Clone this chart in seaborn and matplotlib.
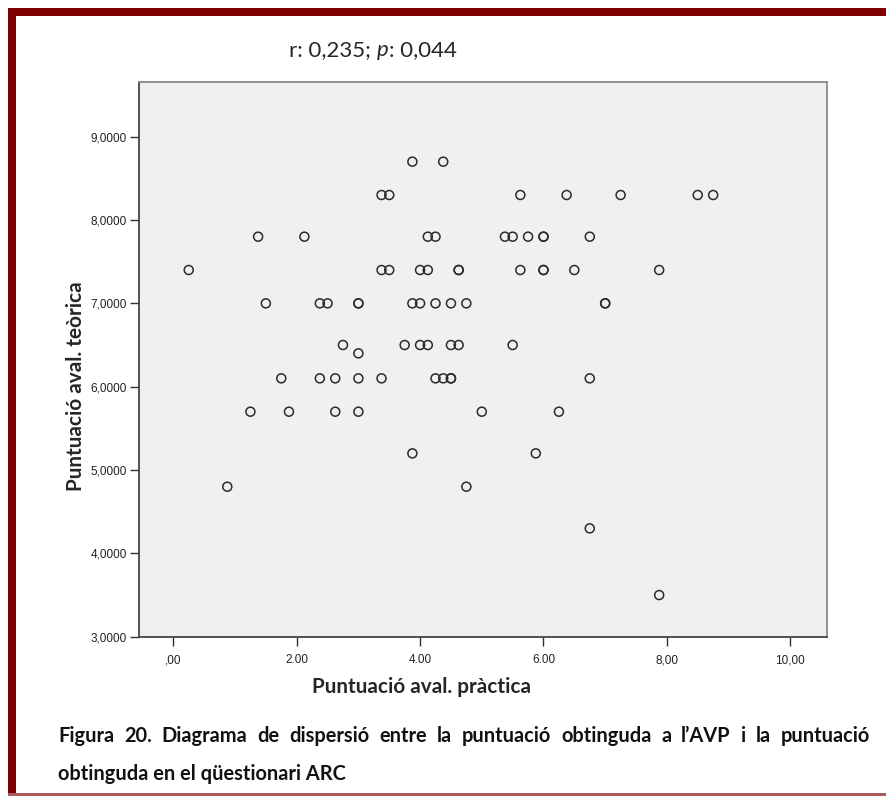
import numpy as np
import pandas as pd
import matplotlib
matplotlib.use("Agg")
import matplotlib.pyplot as plt
import seaborn as sns
from matplotlib.patches import Rectangle

sns.set_theme(style="white")
plt.rcParams['font.family'] = ['Liberation Sans', 'DejaVu Sans']

# punts llegits del grafic, agrupats per valor teoric
teo_87 = [3.875, 4.375]
teo_83 = [3.375, 3.5, 5.625, 6.375, 7.25, 8.5, 8.75]
teo_78 = [1.375, 2.125, 4.125, 4.25, 5.375, 5.5, 5.75, 6.0, 6.0, 6.75]
teo_74 = [0.25, 3.375, 3.5, 4.0, 4.125, 4.625, 4.625, 5.625, 6.0, 6.0, 6.5, 7.875]
teo_70 = [1.5, 2.375, 2.5, 3.0, 3.0, 3.875, 4.0, 4.25, 4.5, 4.75, 7.0, 7.0]
teo_65 = [2.75, 3.75, 4.0, 4.125, 4.5, 4.625, 5.5]
teo_64 = [3.0]
teo_61 = [1.75, 2.375, 2.625, 3.0, 3.375, 4.25, 4.375, 4.5, 4.5, 6.75]
teo_57 = [1.25, 1.875, 2.625, 3.0, 5.0, 6.25]
teo_52 = [3.875, 5.875]
teo_48 = [0.875, 4.75]
teo_43 = [6.75]
teo_35 = [7.875]

groups = {8.7: teo_87, 8.3: teo_83, 7.8: teo_78, 7.4: teo_74, 7.0: teo_70,
          6.5: teo_65, 6.4: teo_64, 6.1: teo_61, 5.7: teo_57, 5.2: teo_52,
          4.8: teo_48, 4.3: teo_43, 3.5: teo_35}

xticks = [0, 2, 4, 6, 8, 10]
xtick_labels = [",00", "2.00", "4.00", "6.00", "8,00", "10,00"]
yticks = [3, 4, 5, 6, 7, 8, 9]
ytick_labels = ["3,0000", "4,0000", "5,0000", "6,0000", "7,0000", "8,0000", "9,0000"]

caption1 = "Figura 20. Diagrama de dispersió entre la puntuació obtinguda a l\u2019AVP i la puntuació"
caption2 = "obtinguda en el qüestionari ARC"

rows = []
for t, xs in groups.items():
    for p in xs:
        rows.append((p, t))
df = pd.DataFrame(rows, columns=["practica", "teorica"])

W, H = 887, 796
fig = plt.figure(figsize=(8.87, 7.96), dpi=100)
ax = fig.add_axes([0.1567, 0.2001, 0.7753, 0.697])
ax.set_facecolor("#f0f0f0")

sns.scatterplot(data=df, x="practica", y="teorica", ax=ax, marker="o", s=42,
                facecolors="none", edgecolors="#2b2b2b", linewidth=1.1)

ax.set_xlim(-0.556, 10.59)
ax.set_ylim(3.0, 9.657)
ax.set_xticks(xticks)
ax.set_xticklabels(xtick_labels)
ax.set_yticks(yticks)
ax.set_yticklabels(ytick_labels)
ax.tick_params(axis="both", direction="out", length=6.5, width=1.0, color="#333333",
               labelsize=8.5, labelcolor="#222222", bottom=True, left=True, pad=2)
ax.tick_params(axis="x", pad=6)
ax.set_xlabel("")
ax.set_ylabel("")

for s in ["left", "bottom"]:
    ax.spines[s].set_color("#444444")
    ax.spines[s].set_linewidth(1.3)
for s in ["top", "right"]:
    ax.spines[s].set_color("#8a8a8a")
    ax.spines[s].set_linewidth(1.3)

def fx(px):
    return px / W
def fy(py):
    return 1 - py / H

fig.canvas.draw()
rend = fig.canvas.get_renderer()

def width_of(t):
    bb = t.get_window_extent(rend)
    return bb.width, bb.height

lab = ['Lato', 'DejaVu Sans']

# titol r / p, mida ajustada a l'amplada de la referencia
parts = [("r: 0,235; ", "normal"), ("p", "italic"), (": 0,044", "normal")]
title_txt = [fig.text(0, fy(50), s, ha="left", va="center", fontsize=12,
                      fontstyle=st, family=lab) for s, st in parts]
tot = sum(width_of(t)[0] for t in title_txt)
fs = 12 * 166 / tot
for t in title_txt:
    t.set_fontsize(fs)
ws = [width_of(t)[0] for t in title_txt]
x0 = 373 - sum(ws) / 2
for t, w in zip(title_txt, ws):
    t.set_x(fx(x0))
    x0 += w

# etiquetes d'eixos
xl = fig.text(fx(422), fy(687), "Puntuació aval. pràctica", ha="center", va="center",
              fontsize=12, fontweight="bold", family=lab)
fsl = 12 * 218 / width_of(xl)[0]
xl.set_fontsize(fsl)
yl = fig.text(fx(86), fy(386), "Puntuació aval. teòrica", rotation=90, ha="right",
              va="center", fontsize=fsl, fontweight="bold", family=lab)

# peu de figura (primera linia justificada)
c2 = fig.text(fx(58), fy(774), caption2, ha="left", va="center", fontsize=12,
              fontweight="bold", family=lab, color="#111111")
fsc = 12 * 285 / width_of(c2)[0]
c2.set_fontsize(fsc)
words = caption1.split(" ")
wtxt = [fig.text(0, fy(736), w, ha="left", va="center", fontsize=fsc,
                 fontweight="bold", family=lab, color="#111111") for w in words]
wws = [width_of(t)[0] for t in wtxt]
gap = (870 - 58 - sum(wws)) / (len(words) - 1)
xp = 58
for t, w in zip(wtxt, wws):
    t.set_x(fx(xp))
    xp += w + gap

# marc vermell fosc
red = "#7f0000"
fig.add_artist(Rectangle((fx(8), fy(16)), fx(887) - fx(8), fy(8) - fy(16),
                         transform=fig.transFigure, color=red, lw=0))
fig.add_artist(Rectangle((fx(8), fy(796)), fx(16) - fx(8), fy(8) - fy(796),
                         transform=fig.transFigure, color=red, lw=0))
fig.add_artist(Rectangle((fx(8), fy(796)), fx(887) - fx(8), fy(793) - fy(796),
                         transform=fig.transFigure, color="#a85a5a", lw=0))

fig.savefig("out.png", dpi=100)
